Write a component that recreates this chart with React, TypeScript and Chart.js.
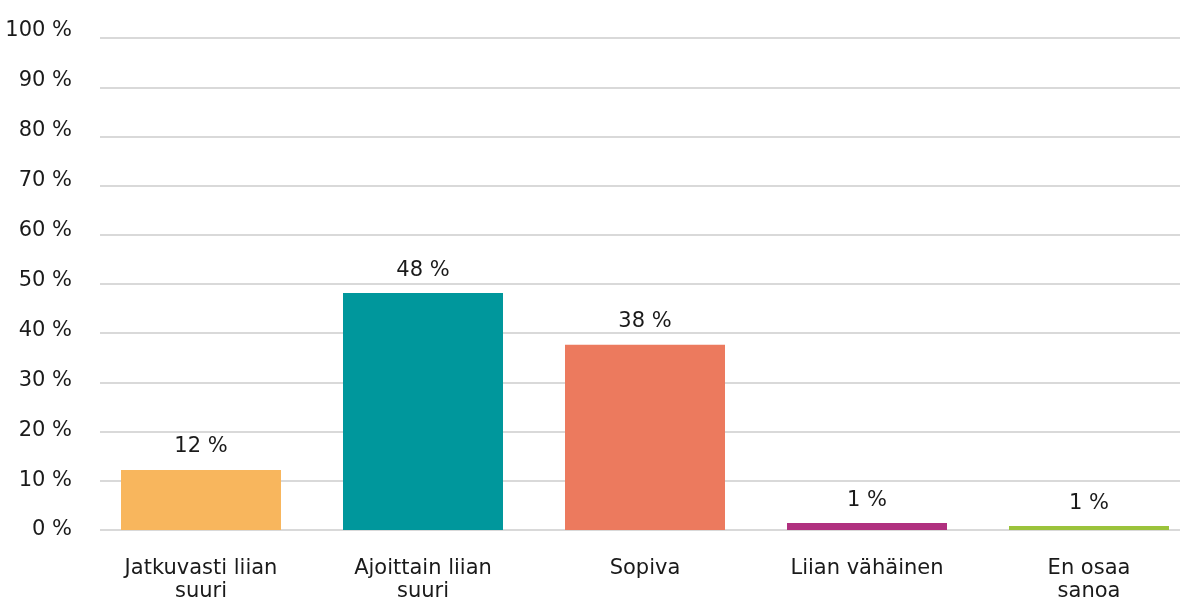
import React, { useEffect, useRef } from "react";
import { Chart, registerables } from "chart.js";

Chart.register(...registerables);

const categories: string[][] = [
  ["Jatkuvasti liian", "suuri"],
  ["Ajoittain liian", "suuri"],
  ["Sopiva"],
  ["Liian vähäinen"],
  ["En osaa", "sanoa"],
];
const values: number[] = [12.2, 48.2, 37.7, 1.4, 0.8];
const valueLabels: string[] = ["12 %", "48 %", "38 %", "1 %", "1 %"];
const barColors: string[] = ["#F8B65D", "#00979C", "#EC7A5E", "#B0307F", "#9BC33B"];
const yTickValues: number[] = [0, 10, 20, 30, 40, 50, 60, 70, 80, 90, 100];

const FONT = "'DejaVu Sans', sans-serif";
const TEXT = "#1a1a1a";
const SIZE = 21;

export default function App() {
  const ref = useRef<HTMLCanvasElement | null>(null);
  useEffect(() => {
    if (!ref.current) return;
    const gridPlugin = {
      id: "gridLines",
      beforeDatasetsDraw(chart: any) {
        const ctx = chart.ctx;
        const y = chart.scales.y;
        const area = chart.chartArea;
        ctx.save();
        ctx.strokeStyle = "#d9d9d9";
        ctx.lineWidth = 2;
        yTickValues.forEach((v) => {
          const py = Math.round(y.getPixelForValue(v));
          ctx.beginPath();
          ctx.moveTo(area.left + 10, py);
          ctx.lineTo(area.right - 20, py);
          ctx.stroke();
        });
        ctx.restore();
      },
    };
    const labelPlugin = {
      id: "valueLabels",
      afterDatasetsDraw(chart: any) {
        const ctx = chart.ctx;
        const meta = chart.getDatasetMeta(0);
        ctx.save();
        ctx.font = `${SIZE}px ${FONT}`;
        ctx.fillStyle = TEXT;
        ctx.textAlign = "center";
        ctx.textBaseline = "middle";
        meta.data.forEach((bar: any, i: number) => {
          ctx.fillText(valueLabels[i], bar.x, bar.y - 23);
        });
        ctx.restore();
      },
    };
    const chart = new Chart(ref.current, {
      type: "bar",
      data: {
        labels: categories as any,
        datasets: [
          {
            data: values,
            backgroundColor: barColors,
            borderWidth: 0,
            barPercentage: 1,
            categoryPercentage: 0.7207,
          },
        ],
      },
      options: {
        animation: false,
        responsive: true,
        maintainAspectRatio: false,
        layout: { padding: { top: 28, right: 0, left: 0, bottom: 0 } },
        plugins: { legend: { display: false }, tooltip: { enabled: false } },
        scales: {
          x: {
            type: "category",
            grid: { display: false },
            border: { display: false },
            ticks: {
              font: { family: FONT, size: SIZE, lineHeight: 1.05 },
              color: TEXT,
              padding: 20,
              maxRotation: 0,
              autoSkip: false,
            },
            afterFit: (s: any) => {
              s.height = 70;
            },
          },
          y: {
            display: false,
            min: 0,
            max: 101.6,
          },
          yl: {
            position: "left",
            min: 0,
            max: 100,
            grid: { display: false, drawTicks: false },
            border: { display: false },
            ticks: {
              stepSize: 10,
              padding: 18,
              font: { family: FONT, size: SIZE },
              color: TEXT,
              callback: (v: any) => `${v} %`,
            },
            afterFit: (s: any) => {
              s.width = 90;
            },
          },
        },
      },
      plugins: [gridPlugin, labelPlugin],
    });
    return () => chart.destroy();
  }, []);
  return (
    <div style={{ position: "fixed", left: 0, top: 0, width: 1200, height: 600, background: "#fff" }}>
      <canvas ref={ref} />
    </div>
  );
}
